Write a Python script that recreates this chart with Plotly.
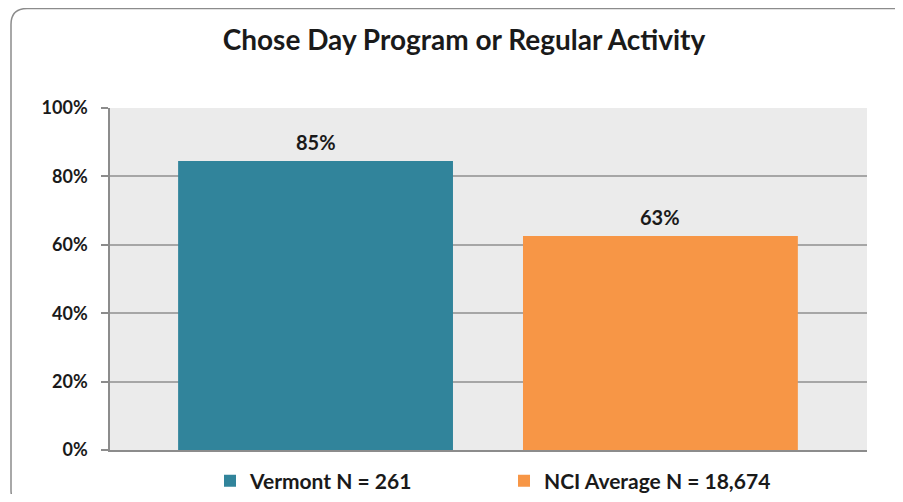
import plotly.graph_objects as go

# ---- data ----
categories = ["Vermont", "NCI Average"]
legend_names = ["Vermont N = 261", "NCI Average N = 18,674"]
values = [84.5, 62.6]
value_labels = ["85%", "63%"]
bar_colors = ["#31849B", "#F79646"]
y_ticks = [0, 20, 40, 60, 80, 100]
y_tick_labels = ["0%", "20%", "40%", "60%", "80%", "100%"]
title_text = "Chose Day Program or Regular Activity"

# ---- layout geometry (window pixels; page body has an 8px margin) ----
O = 8
W, H = 903 - 2 * O, 502 - 2 * O      # avoid page scrollbars
PL, PR, PT, PB = 110, 867, 108, 450   # plot area in window pixels
L, R, T, B = PL - O, W - (PR - O), PT - O, H - (PB - O)
FONT = "Lato"
TXT = "#1a1a1a"


def px(x):
    return (x - PL) / (PR - PL)


def py(y):
    return (PB - y) / (PB - PT)


fig = go.Figure()
for cat, name, val, col in zip(categories, legend_names, values, bar_colors):
    fig.add_trace(go.Bar(
        x=[cat], y=[val], name=name, width=0.797,
        marker=dict(color=col, line=dict(width=0)),
        hoverinfo="skip",
    ))

for cat, val, lab in zip(categories, values, value_labels):
    fig.add_annotation(x=cat, y=val, text=lab, showarrow=False,
                       xref="x", yref="y", yanchor="middle", yshift=19,
                       font=dict(family=FONT, size=20, color=TXT, weight="bold"))

# rounded outer border (right and bottom edges run off the page)
x0, y0, x1, y1, r = 11, 8.5, 918, 506, 16
path = (
    f"M {px(x0 + r)},{py(y0)} L {px(x1 - r)},{py(y0)} "
    f"Q {px(x1)},{py(y0)} {px(x1)},{py(y0 + r)} L {px(x1)},{py(y1 - r)} "
    f"Q {px(x1)},{py(y1)} {px(x1 - r)},{py(y1)} L {px(x0 + r)},{py(y1)} "
    f"Q {px(x0)},{py(y1)} {px(x0)},{py(y1 - r)} L {px(x0)},{py(y0 + r)} "
    f"Q {px(x0)},{py(y0)} {px(x0 + r)},{py(y0)} Z"
)
fig.add_shape(type="path", path=path, xref="paper", yref="paper",
              line=dict(color="#8c8c8c", width=1.5), layer="below")

fig.update_layout(
    width=W, height=H,
    margin=dict(l=L, r=R, t=T, b=B, pad=0, autoexpand=False),
    paper_bgcolor="white",
    plot_bgcolor="#EBEBEB",
    barmode="overlay",
    showlegend=True,
    title=dict(text=title_text, x=px(464), xref="paper", xanchor="center",
               y=1 - (40 - O) / H, yref="container", yanchor="middle",
               font=dict(family=FONT, size=28, color=TXT, weight="bold")),
    legend=dict(orientation="h", x=px(224 - 14), xanchor="left",
                y=py(481), yanchor="middle",
                font=dict(family=FONT, size=21, color=TXT, weight="bold"),
                bgcolor="rgba(0,0,0,0)", itemclick=False,
                entrywidth=249, entrywidthmode="pixels"),
    xaxis=dict(type="category", categoryorder="array", categoryarray=categories,
               range=[-0.596, 1.599], showticklabels=False, ticks="",
               showgrid=False, showline=True, linecolor="#8c8c8c",
               linewidth=1.5, zeroline=False, fixedrange=True),
    yaxis=dict(range=[0, 100], tickvals=y_ticks, ticktext=y_tick_labels,
               ticks="outside", ticklen=7, tickcolor="#8c8c8c", tickwidth=1.5,
               ticklabelstandoff=10,
               showgrid=True, gridcolor="#A6A6A6", gridwidth=1.5,
               showline=True, linecolor="#8c8c8c", linewidth=1.5,
               zeroline=False, fixedrange=True,
               tickfont=dict(family=FONT, size=18, color=TXT, weight="bold")),
)

fig.write_html("out.html", config={"displayModeBar": False})
